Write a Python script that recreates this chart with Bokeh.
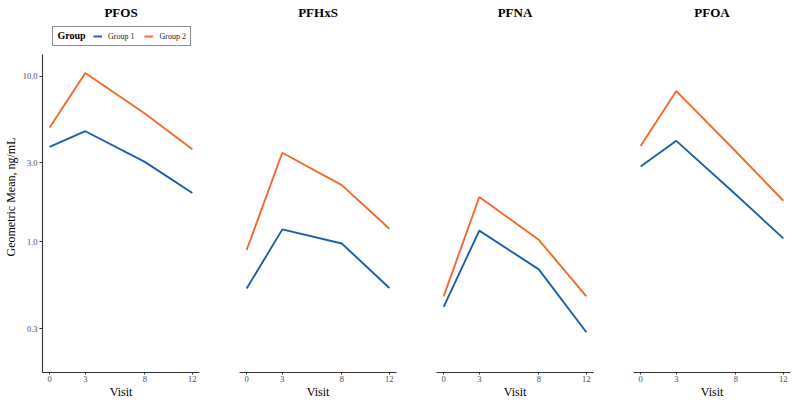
import math
from bokeh.plotting import figure
from bokeh.models import Range1d, FixedTicker, PrintfTickFormatter, Legend, LegendItem, Label
from bokeh.layouts import row
from bokeh.embed import file_html
from bokeh.resources import INLINE

# ---- data ----
visits = [0, 3, 8, 12]
panels = ["PFOS", "PFHxS", "PFNA", "PFOA"]
y_ticks = [0.3, 1.0, 3.0, 10.0]

pfos_g1 = [3.74, 4.65, 3.04, 1.97]
pfos_g2 = [4.90, 10.44, 5.95, 3.62]
pfhxs_g1 = [0.523, 1.19, 0.978, 0.527]
pfhxs_g2 = [0.893, 3.45, 2.20, 1.20]
pfna_g1 = [0.406, 1.17, 0.683, 0.285]
pfna_g2 = [0.469, 1.865, 1.03, 0.469]
pfoa_g1 = [2.85, 4.07, 1.93, 1.05]
pfoa_g2 = [3.79, 8.12, 3.51, 1.77]

group1 = [pfos_g1, pfhxs_g1, pfna_g1, pfoa_g1]
group2 = [pfos_g2, pfhxs_g2, pfna_g2, pfoa_g2]
group_labels = ["Group 1", "Group 2"]
legend_title = "Group"

SERIF = "Liberation Serif"
BLUE = "#1b5fa9"
ORANGE = "#f4682c"
AXIS = "#333333"
TICKLAB = "#4d4d4d"

# geometry: the frame is extended upward to hold the legend; the axis line is bounded
FW = 157
H_AXIS = 318          # px of the frame used by the data panel
E_TOP = 33            # extra px above the data panel (legend strip)
FH = H_AXIS + E_TOP
Y_MIN, Y_MAX = 0.163, 13.5
Y_TOP = Y_MAX * 10 ** (E_TOP / H_AXIS * math.log10(Y_MAX / Y_MIN))

figs = []
for i, name in enumerate(panels):
    first = i == 0
    last = i == len(panels) - 1
    p = figure(
        frame_width=FW, frame_height=FH,
        x_range=Range1d(-0.6, 12.6), y_range=Range1d(Y_MIN, Y_TOP),
        y_axis_type="log",
        y_axis_location="left" if first else None,
        output_backend="svg", toolbar_location=None, title=name,
        min_border_top=0, min_border_bottom=0,
        min_border_left=0 if first else 20,
        min_border_right=2 if last else 20,
        background_fill_color="white", border_fill_color="white",
    )
    p.outline_line_color = None
    p.grid.visible = False
    p.title.align = "center"
    p.title.text_font = SERIF
    p.title.text_font_size = "13px"
    p.title.text_font_style = "bold"
    p.title.text_color = "black"
    p.title.standoff = 4

    r1 = p.line(visits, group1[i], line_color=BLUE, line_width=1.9)
    r2 = p.line(visits, group2[i], line_color=ORANGE, line_width=1.9)

    xa = p.xaxis[0]
    xa.ticker = FixedTicker(ticks=visits)
    xa.axis_label = "Visit"
    xa.axis_label_text_font = SERIF
    xa.axis_label_text_font_size = "12px"
    xa.axis_label_text_font_style = "normal"
    xa.axis_label_text_color = "black"
    xa.axis_label_standoff = 0
    xa.major_label_text_font = SERIF
    xa.major_label_text_font_size = "8.5px"
    xa.major_label_text_color = TICKLAB
    xa.major_label_standoff = 1
    xa.axis_line_color = AXIS
    xa.axis_line_width = 1.1
    xa.major_tick_line_color = AXIS
    xa.major_tick_in = 0
    xa.major_tick_out = 2
    xa.minor_tick_line_color = None

    if first:
        ya = p.yaxis[0]
        ya.bounds = (Y_MIN, Y_MAX)
        ya.ticker = FixedTicker(ticks=y_ticks)
        ya.formatter = PrintfTickFormatter(format="%.1f")
        ya.axis_label = "Geometric Mean, ng/mL"
        ya.axis_label_text_font = SERIF
        ya.axis_label_text_font_size = "12px"
        ya.axis_label_text_font_style = "normal"
        ya.axis_label_text_color = "black"
        ya.axis_label_standoff = 2
        ya.major_label_text_font = SERIF
        ya.major_label_text_font_size = "8.5px"
        ya.major_label_text_color = TICKLAB
        ya.major_label_standoff = 2
        ya.axis_line_color = AXIS
        ya.axis_line_width = 1.1
        ya.major_tick_line_color = AXIS
        ya.major_tick_in = 0
        ya.major_tick_out = 3
        ya.minor_tick_line_color = None

        # invisible placeholder item reserves room for the bold "Group" heading
        r0 = p.line(visits[:1], group1[i][:1], line_alpha=0)
        leg_x = 10
        leg_y = H_AXIS + 8
        legend = Legend(
            items=[LegendItem(label="", renderers=[r0]),
                   LegendItem(label=group_labels[0], renderers=[r1]),
                   LegendItem(label=group_labels[1], renderers=[r2])],
            orientation="horizontal", location=(leg_x, leg_y),
            label_text_font=SERIF, label_text_font_size="8px", label_text_color="#222222",
            glyph_width=9, glyph_height=10, label_standoff=6, label_height=10,
            label_width=11,
            spacing=10, padding=4, margin=0,
            border_line_color="#222222", border_line_width=1.2,
            background_fill_alpha=0,
        )
        p.add_layout(legend, "center")
        p.add_layout(Label(x=leg_x + 5, y=leg_y + 11, x_units="screen", y_units="screen",
                           text=legend_title, text_font=SERIF, text_font_size="10px",
                           text_font_style="bold", text_color="black",
                           text_baseline="middle", text_align="left"))
    figs.append(p)

layout = row(figs, spacing=0)
open("out.html", "w").write(file_html(layout, INLINE))
